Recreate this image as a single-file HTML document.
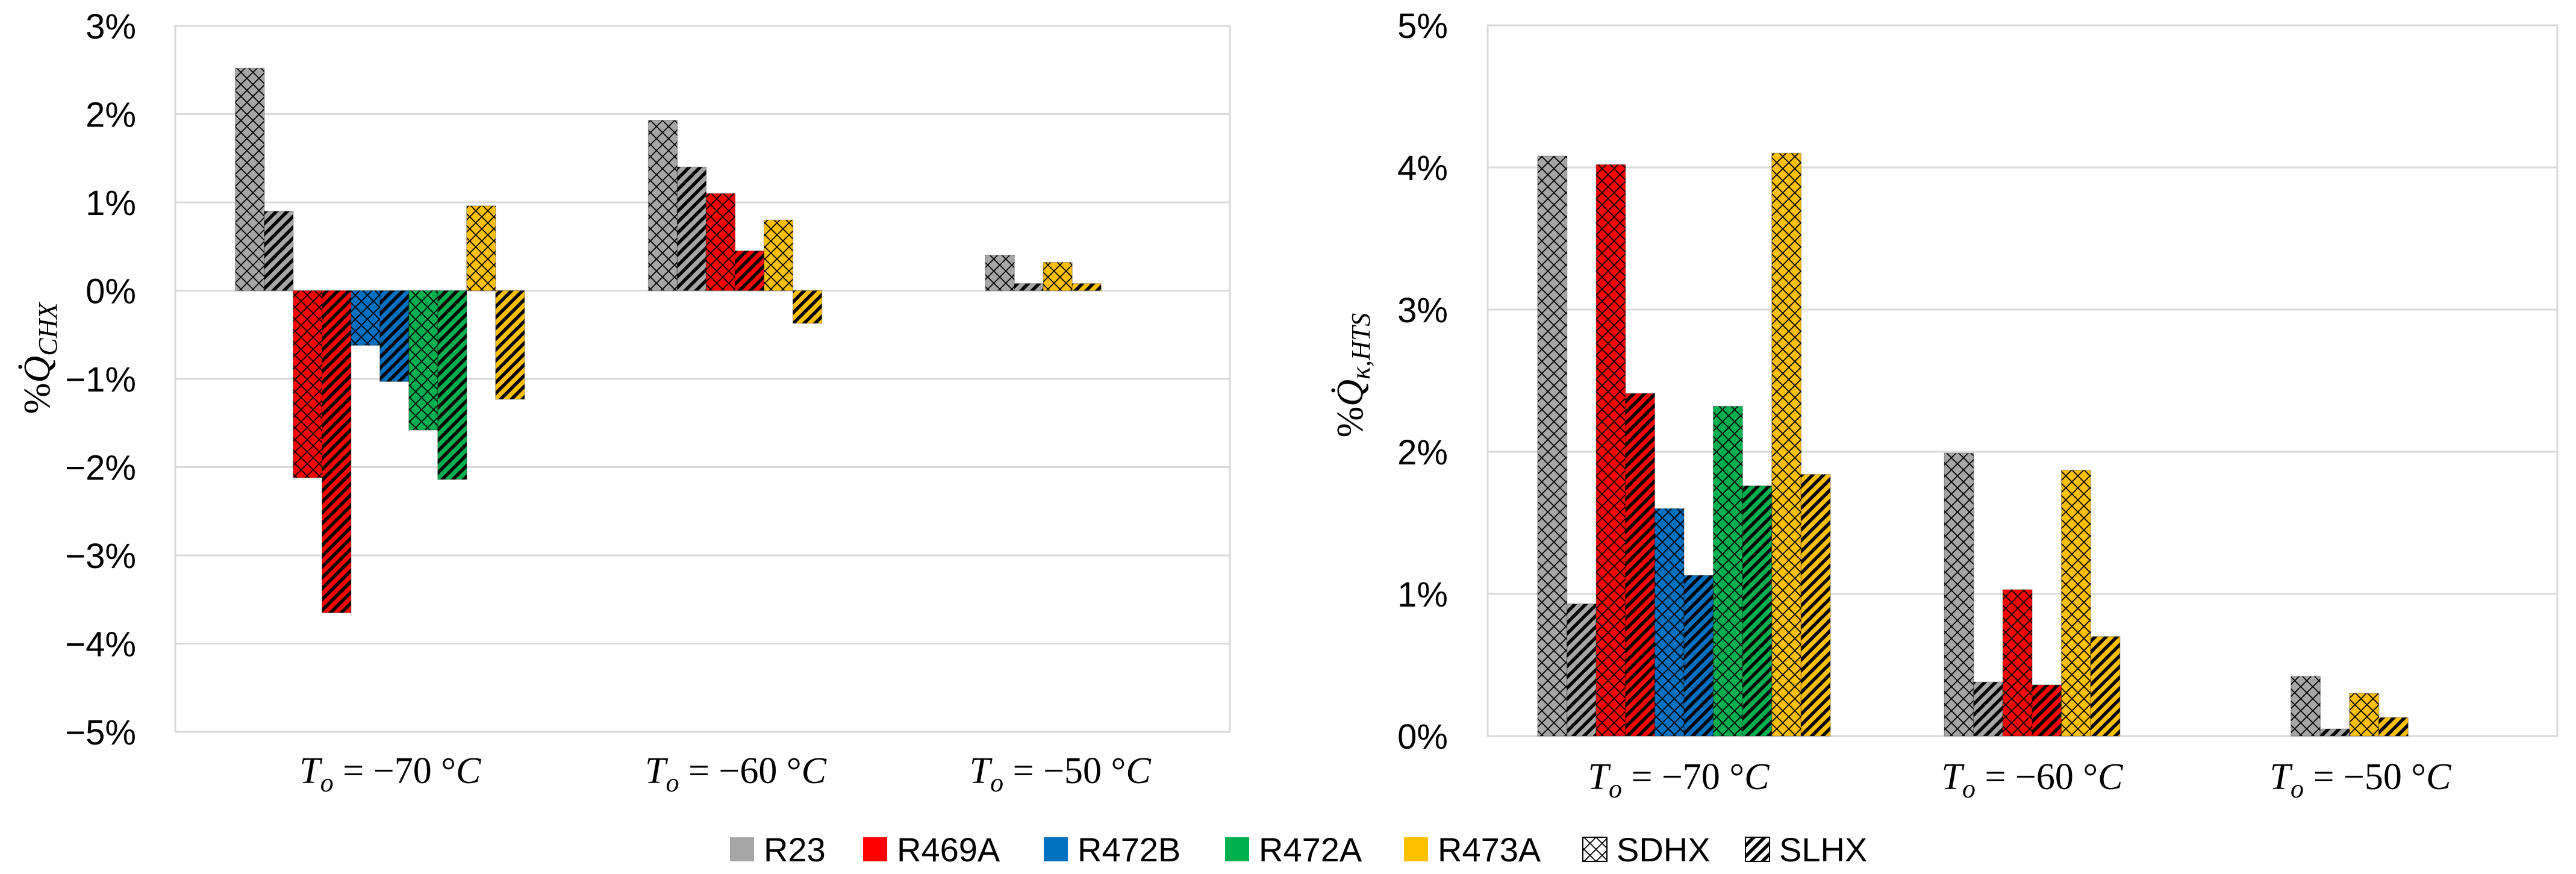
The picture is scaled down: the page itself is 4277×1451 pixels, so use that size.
<!DOCTYPE html>
<html><head><meta charset="utf-8">
<style>
html,body{margin:0;padding:0;background:#fff;}
svg{display:block;}
text{font-family:"Liberation Sans",sans-serif;}
.tick{font-size:58px;fill:#000;}
.cat{font-family:"Liberation Serif",serif;font-style:italic;font-size:62px;}
.leg{font-size:56px;}
</style></head>
<body>
<svg id="chart" width="4277" height="1451" viewBox="0 0 4277 1451" xmlns="http://www.w3.org/2000/svg">
<defs>
<pattern id="xh" width="20" height="20" patternUnits="userSpaceOnUse">
<path d="M0,0 L20,20 M20,0 L0,20" stroke="#000" stroke-width="1.8" fill="none"/>
</pattern>
<pattern id="sl" width="18" height="18" patternUnits="userSpaceOnUse">
<path d="M-4.5,4.5 L4.5,-4.5 M0,18 L18,0 M13.5,22.5 L22.5,13.5" stroke="#000" stroke-width="5.5" fill="none"/>
</pattern>
</defs>
<g id="layer"></g>
</svg>
<script>
// ---- data ----
const refrigerants = ["R23","R469A","R472B","R472A","R473A"];
const colors = ["#a6a6a6","#ff0000","#0070c0","#00b050","#ffc000"];
const categories = [-70,-60,-50];
const hxTypes = ["SDHX","SLHX"];
// left chart: per category, series index and values [SDHX, SLHX]
const leftSeries = [[0,1,2,3,4],[0,1,4],[0,4]];
const leftSD = [[2.52,-2.12,-0.62,-1.58,0.96],[1.93,1.10,0.80],[0.40,0.32]];
const leftSL = [[0.90,-3.65,-1.03,-2.14,-1.23],[1.40,0.45,-0.37],[0.08,0.08]];
const leftTicks = [3,2,1,0,-1,-2,-3,-4,-5];
// right chart
const rightSeries = [[0,1,2,3,4],[0,1,4],[0,4]];
const rightSD = [[4.08,4.02,1.60,2.32,4.10],[1.99,1.03,1.87],[0.42,0.30]];
const rightSL = [[0.93,2.41,1.13,1.76,1.84],[0.38,0.36,0.70],[0.05,0.13]];
const rightTicks = [5,4,3,2,1,0];

const NS="http://www.w3.org/2000/svg";
const layer=document.getElementById('layer');
function mk(tag,attrs,parent){const e=document.createElementNS(NS,tag);for(const k in attrs)e.setAttribute(k,attrs[k]);(parent||layer).appendChild(e);return e;}

function drawChart(cfg){
  const g=mk('g',{});
  
  
  const y=v=>cfg.top+(cfg.ymax-v)/(cfg.ymax-cfg.ymin)*(cfg.bottom-cfg.top);
  cfg.ticks.forEach(t=>{
    const l=mk('line',{x1:cfg.left,x2:cfg.right,y1:y(t),y2:y(t),stroke:'#d9d9d9','stroke-width':3},g);
    
    
    const tx=mk('text',{x:cfg.tickX,y:y(t)+21,'text-anchor':'end',class:'tick'},g);
    tx.textContent=(t<0?'\u2212'+(-t):t)+'%';
    
    
  });
  const frame=mk('rect',{x:cfg.left,y:cfg.top,width:cfg.right-cfg.left,height:cfg.bottom-cfg.top,fill:'none',stroke:'#d9d9d9','stroke-width':3},g);
  
  
  const slot=(cfg.right-cfg.left)/categories.length;
  const bw=cfg.bw;
  categories.forEach((c,ci)=>{
    const ser=cfg.series[ci];
    const n=ser.length*2;
    const cx=cfg.left+slot*(ci+0.5)+cfg.shift[ci];
    let x0=cx-n*bw/2;
    ser.forEach((si,k)=>{
      [cfg.sd[ci][k],cfg.sl[ci][k]].forEach((v,h)=>{
        const x=x0+(k*2+h)*bw;
        const ya=y(Math.max(v,0)), yb=y(Math.min(v,0));
        const r=mk('rect',{x:x,y:ya,width:bw,height:yb-ya,fill:colors[si],stroke:'rgba(0,0,0,0.25)','stroke-width':1.5},g);
        
        
        mk('rect',{x:x,y:ya,width:bw,height:yb-ya,fill:h?'url(#sl)':'url(#xh)'},g);
      });
    });
    const lx=cfg.left+slot*(ci+0.5)+cfg.labShift[ci];
    const t=mk('text',{x:lx,y:cfg.labY,'text-anchor':'middle',class:'cat'},g);
    
    
    t.innerHTML='T<tspan font-size="44" dy="14">o</tspan><tspan dy="-14" font-style="normal"> = \u2212'+Math.abs(c)+' \u00b0</tspan>C';
  });
  const at=mk('text',{x:0,y:0,transform:`translate(${cfg.titleX},${cfg.titleY}) rotate(-90)`,'text-anchor':'middle',style:'font-family:"Liberation Serif",serif;font-size:62px;'},g);
  
  
  at.innerHTML='%<tspan font-style="italic">Q\u0307</tspan><tspan font-style="italic" font-size="44" dy="12">'+cfg.sub+'</tspan>';
}

drawChart({name:'chart-q-chx',left:291,right:2042,top:43,bottom:1215,ymax:3,ymin:-5,ticks:leftTicks,tickX:226,
  series:leftSeries,sd:leftSD,sl:leftSL,bw:48,shift:[48,54,-18],labShift:[65,55,10],labY:1300,
  titleX:82,titleY:595,sub:'CHX'});
drawChart({name:'chart-q-hts',left:2470,right:4246,top:42,bottom:1222,ymax:5,ymin:0,ticks:rightTicks,tickX:2404,
  series:rightSeries,sd:rightSD,sl:rightSL,bw:48.6,shift:[30,16,-49],labShift:[21,16,-31],labY:1310,
  titleX:2262,titleY:623,sub:'\u03ba,HTS'});

// legend
const legX=[1212,1433,1733,2034,2331];
const lg=mk('g',{});


refrigerants.forEach((r,i)=>{
  const e=mk('g',{},lg);
  
  
  mk('rect',{x:legX[i],y:1390,width:40,height:40,fill:colors[i]},e);
  const t=mk('text',{x:legX[i]+56,y:1430,class:'leg'},e);
  t.textContent=r;
});
[[2628,'xh','SDHX'],[2898,'sl','SLHX']].forEach(([x,p,n])=>{
  const e=mk('g',{},lg);
  
  
  mk('rect',{x:x,y:1390,width:40,height:40,fill:'#fff',stroke:'#000','stroke-width':2},e);
  mk('rect',{x:x,y:1390,width:40,height:40,fill:`url(#${p})`},e);
  const t=mk('text',{x:x+56,y:1430,class:'leg'},e);
  t.textContent=n;
});
</script>
</body></html>
